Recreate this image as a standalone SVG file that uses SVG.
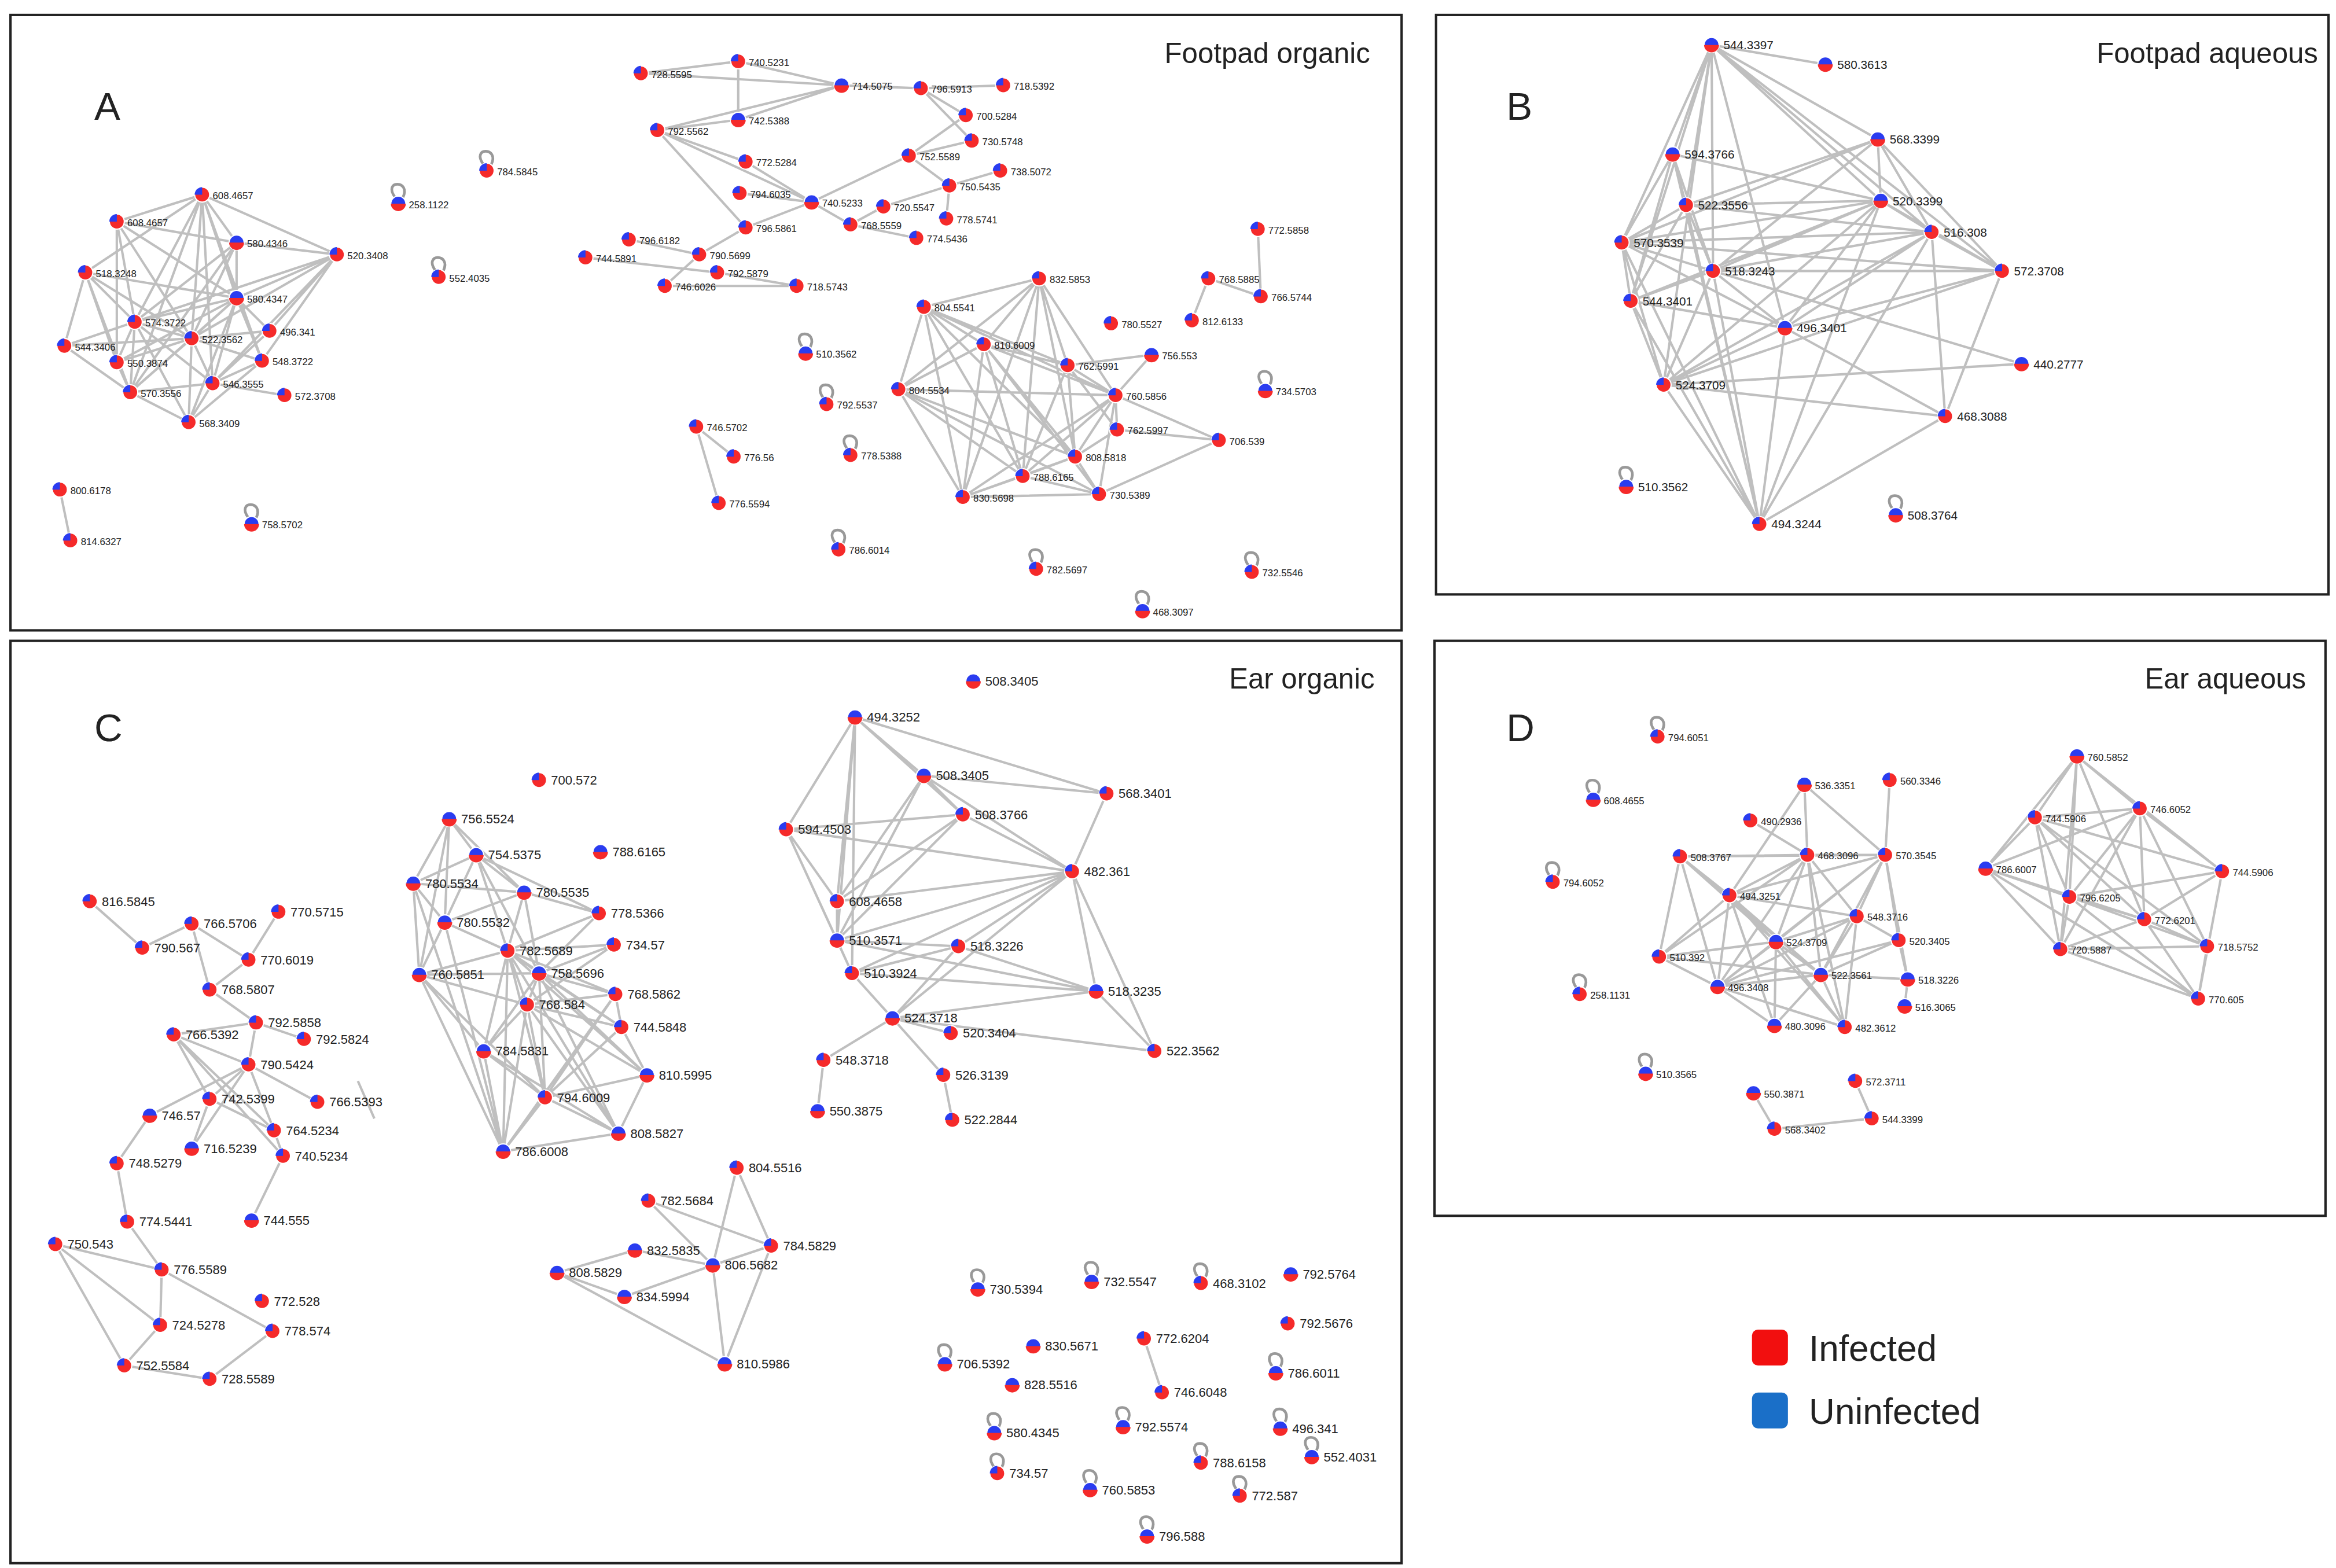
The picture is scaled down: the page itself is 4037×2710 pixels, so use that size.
<svg xmlns="http://www.w3.org/2000/svg" xmlns:xlink="http://www.w3.org/1999/xlink" width="4037" height="2710" viewBox="0 0 4037 2710">
<style>
text{font-family:"Liberation Sans",Arial,sans-serif;fill:#222}
.a text,.d text{font-size:6.5px}
.b text{font-size:8px}
.c text{font-size:8.5px}
.e{fill:none;stroke:#8a8a8a;stroke-opacity:.55;stroke-width:1.6}
.fr{fill:none;stroke:#222;stroke-width:1.6}
.t{font-size:19px}
.L{font-size:26px}
.lg{font-size:24px}
</style>
<defs>
<g id="r"><circle r="5" fill="#f52a2a" stroke="#fff" stroke-width=".8"/><path d="M0 0V-5A5 5 0 0 0 -5 0Z" fill="#2a3cf0"/></g>
<g id="b"><circle r="5" fill="#2a3cf0" stroke="#fff" stroke-width=".8"/><path d="M-5 0A5 5 0 0 0 5 0Z" fill="#f52a2a"/></g>
<path id="lp" d="M-2 -4C-11 -16 9 -16 3 -4" fill="none" stroke="#999" stroke-width="1.8"/>
</defs>
<rect width="4037" height="2710" fill="#fff"/>
<g transform="scale(2.5878)">
<g id="frames">
<rect class="fr" x="7" y="10" width="929" height="411"/>
<rect class="fr" x="959" y="10" width="596" height="387"/>
<rect class="fr" x="7" y="428" width="929" height="616"/>
<rect class="fr" x="958" y="428" width="595" height="384"/>
<text class="t" x="915" y="42" text-anchor="end">Footpad organic</text>
<text class="t" x="1548" y="42" text-anchor="end">Footpad aqueous</text>
<text class="t" x="918" y="460" text-anchor="end">Ear organic</text>
<text class="t" x="1540" y="460" text-anchor="end">Ear aqueous</text>
<text class="L" x="63" y="80">A</text>
<text class="L" x="1006" y="80">B</text>
<text class="L" x="63" y="495">C</text>
<text class="L" x="1006" y="495">D</text>
</g>
<g id="legend">
<rect x="1170" y="888" width="24" height="24" rx="4" fill="#f20f0f"/>
<text class="lg" x="1208" y="909">Infected</text>
<rect x="1170" y="930" width="24" height="24" rx="4" fill="#1a6fc8"/>
<text class="lg" x="1208" y="951">Uninfected</text>
</g>
<g id="connectors">
<path class="e" d="M135 130L78 148M135 130L158 162M135 130L225 170M135 130L57 182M135 130L158 199M135 130L90 215M135 130L128 226M135 130L175 241M135 130L142 256M135 130L87 262M78 148L158 162M78 148L158 199M78 148L90 215M78 148L128 226M78 148L78 242M158 162L225 170M158 162L158 199M158 162L90 215M158 162L128 226M158 162L87 262M225 170L158 199M225 170L90 215M225 170L128 226M225 170L175 241M225 170L142 256M225 170L180 221M57 182L158 199M57 182L90 215M57 182L128 226M57 182L43 231M57 182L78 242M57 182L87 262M158 199L90 215M158 199L180 221M158 199L128 226M158 199L175 241M158 199L78 242M158 199L142 256M158 199L87 262M158 199L126 282M90 215L128 226M90 215L43 231M90 215L78 242M90 215L142 256M90 215L87 262M90 215L126 282M128 226L175 241M128 226L78 242M128 226L142 256M128 226L87 262M128 226L126 282M43 231L87 262M43 231L128 226M175 241L142 256M175 241L126 282M78 242L87 262M142 256L87 262M142 256L126 282M87 262L126 282M180 221L128 226M180 221L142 256M142 256L190 264"/>
<path class="e" d="M40 327L47 361M428 49L493 41M428 49L562 57M493 41L562 57M493 41L493 80M562 57L615 59M493 80L562 57M493 80L439 87M439 87L498 108M439 87L542 135M439 87L498 152M439 87L562 57M615 59L645 77M615 59L649 94M615 59L670 57M645 77L607 104M607 104L634 124M607 104L542 135M634 124L590 138M634 124L668 114M649 94L607 104M542 135L568 150M590 138L568 150M632 146L634 124M568 150L612 159M494 129L542 135M498 108L542 135M498 152L542 135M498 152L467 170M420 160L467 170M391 172L479 182M467 170L444 191M444 191L532 191M479 182L532 191M840 153L842 198M807 186L796 214M807 186L842 198M465 285L490 305M465 285L480 336"/>
<path class="e" d="M694 186L617 205M694 186L657 230M694 186L713 244M694 186L600 260M694 186L745 264M694 186L718 305M694 186L683 318M694 186L643 332M617 205L657 230M617 205L600 260M617 205L713 244M617 205L718 305M617 205L683 318M617 205L643 332M617 205L745 264M657 230L713 244M657 230L600 260M657 230L745 264M657 230L718 305M657 230L683 318M657 230L643 332M657 230L734 330M713 244L745 264M713 244L718 305M713 244L683 318M713 244L769 237M769 237L745 264M600 260L745 264M600 260L718 305M600 260L683 318M600 260L643 332M600 260L734 330M745 264L746 287M745 264L814 294M745 264L718 305M745 264L683 318M745 264L643 332M745 264L734 330M746 287L718 305M746 287L814 294M814 294L734 330M718 305L683 318M718 305L643 332M718 305L734 330M683 318L643 332M683 318L734 330M643 332L734 330M713 244L746 287"/>
<path class="e" d="M1143 30L1219 43M1143 30L1117 103M1143 30L1126 137M1143 30L1083 162M1143 30L1144 181M1143 30L1089 201M1143 30L1254 93M1143 30L1256 134M1143 30L1290 155M1143 30L1192 219M1143 30L1111 257M1143 30L1337 181M1254 93L1256 134M1254 93L1290 155M1254 93L1083 162M1254 93L1144 181M1254 93L1126 137M1254 93L1337 181M1117 103L1083 162M1117 103L1126 137M1117 103L1144 181M1117 103L1089 201M1117 103L1256 134M1126 137L1256 134M1126 137L1083 162M1126 137L1144 181M1126 137L1089 201M1126 137L1290 155M1256 134L1290 155M1256 134L1083 162M1256 134L1144 181M1256 134L1089 201M1256 134L1192 219M1256 134L1111 257M1256 134L1337 181M1290 155L1083 162M1290 155L1144 181M1290 155L1337 181M1290 155L1192 219M1290 155L1111 257M1290 155L1299 278M1290 155L1175 350M1083 162L1144 181M1083 162L1089 201M1083 162L1192 219M1083 162L1111 257M1083 162L1175 350M1083 162L1337 181M1144 181L1089 201M1144 181L1192 219M1144 181L1111 257M1144 181L1337 181M1337 181L1192 219M1337 181L1299 278M1337 181L1111 257M1089 201L1111 257M1089 201L1192 219M1089 201L1175 350M1192 219L1111 257M1192 219L1175 350M1192 219L1299 278M1350 243L1111 257M1350 243L1144 181M1111 257L1175 350M1111 257L1299 278M1299 278L1175 350M1117 103L1175 350M1126 137L1175 350M1144 181L1175 350M1256 134L1175 350"/>
<path class="e" d="M60 602L95 633M95 633L128 617M128 617L166 641M186 609L166 641M166 641L140 661M128 617L140 661M140 661L171 683M171 683L166 711M171 683L203 694M171 683L116 691M116 691L166 711M116 691L140 734M116 691L183 755M116 691L189 772M166 711L212 736M166 711L140 734M166 711L183 755M166 711L128 767M166 711L100 745M140 734L183 755M140 734L128 767M183 755L189 772M100 745L78 777M78 777L85 816M85 816L108 848M189 772L168 815M37 831L108 848M37 831L107 885M37 831L83 912M108 848L107 885M108 848L182 889M107 885L83 912M83 912L140 921M140 921L182 889"/>
<path class="e" d="M300 547L318 571M300 547L276 590M300 547L350 596M300 547L297 616M300 547L280 651M318 571L276 590M318 571L350 596M318 571L400 610M318 571L297 616M318 571L339 635M318 571L360 650M276 590L297 616M276 590L350 596M276 590L280 651M350 596L400 610M350 596L339 635M350 596L297 616M350 596L360 650M400 610L339 635M400 610L360 650M297 616L339 635M297 616L280 651M339 635L410 631M339 635L360 650M339 635L280 651M339 635L411 664M339 635L352 671M339 635L415 686M339 635L323 702M339 635L432 718M339 635L364 733M339 635L413 757M339 635L336 769M410 631L360 650M410 631L352 671M360 650L411 664M360 650L352 671M360 650L415 686M360 650L323 702M360 650L432 718M360 650L364 733M360 650L413 757M280 651L352 671M280 651L323 702M280 651L364 733M280 651L336 769M280 651L360 650M411 664L352 671M411 664L415 686M411 664L364 733M352 671L415 686M352 671L323 702M352 671L432 718M352 671L364 733M352 671L413 757M352 671L336 769M415 686L432 718M415 686L364 733M323 702L364 733M323 702L336 769M432 718L364 733M432 718L413 757M364 733L413 757M364 733L336 769M413 757L336 769M323 702L413 757M297 616L336 769M276 590L336 769M411 664L336 769"/>
<path class="e" d="M571 479L617 518M571 479L525 554M571 479L559 602M571 479L559 628M571 479L739 530M571 479L643 544M571 479L569 650M617 518L739 530M617 518L643 544M617 518L559 628M617 518L716 582M617 518L559 602M739 530L716 582M643 544L525 554M643 544L716 582M643 544L559 628M643 544L559 602M525 554L559 602M525 554L559 628M525 554L569 650M525 554L716 582M716 582L559 628M716 582L640 632M716 582L732 662M716 582L569 650M716 582L596 680M716 582L771 702M559 602L559 628M559 602L716 582M559 628L640 632M559 628L569 650M559 628L732 662M640 632L732 662M640 632L569 650M569 650L732 662M569 650L596 680M732 662L596 680M732 662L771 702M596 680L635 690M596 680L550 708M596 680L630 718M596 680L771 702M596 680L640 632M550 708L546 742M630 718L636 748"/>
<path class="e" d="M492 780L476 845M492 780L515 832M433 802L476 845M433 802L515 832M424 835L476 845M424 835L372 850M476 845L515 832M476 845L417 866M476 845L484 911M515 832L484 911M372 850L417 866M372 850L484 911M764 894L776 930M239 722L250 747" transform="translate(0 0)"/>
<path class="e" d="M1239 722L1250 747M1250 747L1185 754M1171 730L1185 754"/>
<path class="e" d="M1205 524L1207 571M1205 524L1259 571M1205 524L1155 598M1262 521L1259 571M1169 548L1207 571M1122 572L1207 571M1122 572L1259 571M1122 572L1155 598M1122 572L1186 629M1122 572L1108 639M1122 572L1147 659M1122 572L1216 651M1207 571L1259 571M1207 571L1155 598M1207 571L1240 612M1207 571L1186 629M1207 571L1216 651M1207 571L1147 659M1207 571L1232 686M1207 571L1108 639M1259 571L1155 598M1259 571L1240 612M1259 571L1186 629M1259 571L1268 628M1259 571L1216 651M1259 571L1147 659M1259 571L1274 654M1155 598L1240 612M1155 598L1186 629M1155 598L1108 639M1155 598L1216 651M1155 598L1147 659M1155 598L1185 685M1155 598L1232 686M1240 612L1186 629M1240 612L1268 628M1240 612L1216 651M1240 612L1147 659M1240 612L1232 686M1186 629L1108 639M1186 629L1216 651M1186 629L1147 659M1186 629L1185 685M1186 629L1232 686M1268 628L1216 651M1268 628L1274 654M1108 639L1147 659M1108 639L1216 651M1216 651L1274 654M1216 651L1147 659M1216 651L1185 685M1216 651L1232 686M1147 659L1185 685M1147 659L1232 686M1274 654L1272 672M1268 628L1147 659"/>
<path class="e" d="M1387 505L1359 546M1387 505L1429 540M1387 505L1326 580M1387 505L1382 599M1387 505L1432 614M1387 505L1376 634M1387 505L1484 582M1359 546L1429 540M1359 546L1326 580M1359 546L1382 599M1359 546L1432 614M1359 546L1376 634M1359 546L1474 632M1359 546L1484 582M1429 540L1326 580M1429 540L1484 582M1429 540L1382 599M1429 540L1432 614M1429 540L1376 634M1429 540L1474 632M1326 580L1382 599M1326 580L1432 614M1326 580L1376 634M1326 580L1468 667M1484 582L1382 599M1484 582L1432 614M1484 582L1468 667M1382 599L1432 614M1382 599L1376 634M1382 599L1474 632M1382 599L1468 667M1432 614L1376 634M1432 614L1474 632M1432 614L1468 667M1376 634L1474 632M1376 634L1468 667M1474 632L1468 667"/>
</g>
<g class="a">
<g id="a1"><use href="#r" x="135" y="130"/><text x="142" y="133">608.4657</text></g>
<g id="a2"><use href="#r" x="78" y="148"/><text x="85" y="151">608.4657</text></g>
<g id="a3"><use href="#b" x="158" y="162"/><text x="165" y="165">580.4346</text></g>
<g id="a4"><use href="#r" x="225" y="170"/><text x="232" y="173">520.3408</text></g>
<g id="a5"><use href="#r" x="57" y="182"/><text x="64" y="185">518.3248</text></g>
<g id="a6"><use href="#b" x="158" y="199"/><text x="165" y="202">580.4347</text></g>
<g id="a7"><use href="#r" x="90" y="215"/><text x="97" y="218">574.3722</text></g>
<g id="a8"><use href="#r" x="180" y="221"/><text x="187" y="224">496.341</text></g>
<g id="a9"><use href="#r" x="128" y="226"/><text x="135" y="229">522.3562</text></g>
<g id="a10"><use href="#r" x="43" y="231"/><text x="50" y="234">544.3406</text></g>
<g id="a11"><use href="#r" x="175" y="241"/><text x="182" y="244">548.3722</text></g>
<g id="a12"><use href="#r" x="78" y="242"/><text x="85" y="245">550.3874</text></g>
<g id="a13"><use href="#r" x="142" y="256"/><text x="149" y="259">546.3555</text></g>
<g id="a14"><use href="#r" x="87" y="262"/><text x="94" y="265">570.3556</text></g>
<g id="a15"><use href="#r" x="190" y="264"/><text x="197" y="267">572.3708</text></g>
<g id="a16"><use href="#r" x="126" y="282"/><text x="133" y="285">568.3409</text></g>
<g id="a17"><use href="#lp" x="266" y="136"/><use href="#b" x="266" y="136"/><text x="273" y="139">258.1122</text></g>
<g id="a18"><use href="#lp" x="325" y="114"/><use href="#r" x="325" y="114"/><text x="332" y="117">784.5845</text></g>
<g id="a19"><use href="#lp" x="293" y="185"/><use href="#r" x="293" y="185"/><text x="300" y="188">552.4035</text></g>
<g id="a20"><use href="#r" x="40" y="327"/><text x="47" y="330">800.6178</text></g>
<g id="a21"><use href="#r" x="47" y="361"/><text x="54" y="364">814.6327</text></g>
<g id="a22"><use href="#lp" x="168" y="350"/><use href="#b" x="168" y="350"/><text x="175" y="353">758.5702</text></g>
<g id="a23"><use href="#r" x="428" y="49"/><text x="435" y="52">728.5595</text></g>
<g id="a24"><use href="#r" x="493" y="41"/><text x="500" y="44">740.5231</text></g>
<g id="a25"><use href="#b" x="562" y="57"/><text x="569" y="60">714.5075</text></g>
<g id="a26"><use href="#r" x="615" y="59"/><text x="622" y="62">796.5913</text></g>
<g id="a27"><use href="#r" x="670" y="57"/><text x="677" y="60">718.5392</text></g>
<g id="a28"><use href="#b" x="493" y="80"/><text x="500" y="83">742.5388</text></g>
<g id="a29"><use href="#r" x="645" y="77"/><text x="652" y="80">700.5284</text></g>
<g id="a30"><use href="#r" x="439" y="87"/><text x="446" y="90">792.5562</text></g>
<g id="a31"><use href="#r" x="649" y="94"/><text x="656" y="97">730.5748</text></g>
<g id="a32"><use href="#r" x="498" y="108"/><text x="505" y="111">772.5284</text></g>
<g id="a33"><use href="#r" x="607" y="104"/><text x="614" y="107">752.5589</text></g>
<g id="a34"><use href="#r" x="668" y="114"/><text x="675" y="117">738.5072</text></g>
<g id="a35"><use href="#r" x="494" y="129"/><text x="501" y="132">794.6035</text></g>
<g id="a36"><use href="#b" x="542" y="135"/><text x="549" y="138">740.5233</text></g>
<g id="a37"><use href="#r" x="590" y="138"/><text x="597" y="141">720.5547</text></g>
<g id="a38"><use href="#r" x="634" y="124"/><text x="641" y="127">750.5435</text></g>
<g id="a39"><use href="#r" x="568" y="150"/><text x="575" y="153">768.5559</text></g>
<g id="a40"><use href="#r" x="632" y="146"/><text x="639" y="149">778.5741</text></g>
<g id="a41"><use href="#r" x="498" y="152"/><text x="505" y="155">796.5861</text></g>
<g id="a42"><use href="#r" x="612" y="159"/><text x="619" y="162">774.5436</text></g>
<g id="a43"><use href="#r" x="420" y="160"/><text x="427" y="163">796.6182</text></g>
<g id="a44"><use href="#r" x="467" y="170"/><text x="474" y="173">790.5699</text></g>
<g id="a45"><use href="#r" x="391" y="172"/><text x="398" y="175">744.5891</text></g>
<g id="a46"><use href="#r" x="479" y="182"/><text x="486" y="185">792.5879</text></g>
<g id="a47"><use href="#r" x="444" y="191"/><text x="451" y="194">746.6026</text></g>
<g id="a48"><use href="#r" x="532" y="191"/><text x="539" y="194">718.5743</text></g>
<g id="a49"><use href="#r" x="694" y="186"/><text x="701" y="189">832.5853</text></g>
<g id="a50"><use href="#r" x="617" y="205"/><text x="624" y="208">804.5541</text></g>
<g id="a51"><use href="#r" x="742" y="216"/><text x="749" y="219">780.5527</text></g>
<g id="a52"><use href="#r" x="657" y="230"/><text x="664" y="233">810.6009</text></g>
<g id="a53"><use href="#r" x="713" y="244"/><text x="720" y="247">762.5991</text></g>
<g id="a54"><use href="#b" x="769" y="237"/><text x="776" y="240">756.553</text></g>
<g id="a55"><use href="#r" x="600" y="260"/><text x="607" y="263">804.5534</text></g>
<g id="a56"><use href="#r" x="745" y="264"/><text x="752" y="267">760.5856</text></g>
<g id="a57"><use href="#r" x="746" y="287"/><text x="753" y="290">762.5997</text></g>
<g id="a58"><use href="#r" x="814" y="294"/><text x="821" y="297">706.539</text></g>
<g id="a59"><use href="#r" x="718" y="305"/><text x="725" y="308">808.5818</text></g>
<g id="a60"><use href="#r" x="683" y="318"/><text x="690" y="321">788.6165</text></g>
<g id="a61"><use href="#r" x="643" y="332"/><text x="650" y="335">830.5698</text></g>
<g id="a62"><use href="#r" x="734" y="330"/><text x="741" y="333">730.5389</text></g>
<g id="a63"><use href="#r" x="840" y="153"/><text x="847" y="156">772.5858</text></g>
<g id="a64"><use href="#r" x="807" y="186"/><text x="814" y="189">768.5885</text></g>
<g id="a65"><use href="#r" x="842" y="198"/><text x="849" y="201">766.5744</text></g>
<g id="a66"><use href="#r" x="796" y="214"/><text x="803" y="217">812.6133</text></g>
<g id="a67"><use href="#lp" x="538" y="236"/><use href="#b" x="538" y="236"/><text x="545" y="239">510.3562</text></g>
<g id="a68"><use href="#lp" x="845" y="261"/><use href="#b" x="845" y="261"/><text x="852" y="264">734.5703</text></g>
<g id="a69"><use href="#lp" x="552" y="270"/><use href="#r" x="552" y="270"/><text x="559" y="273">792.5537</text></g>
<g id="a70"><use href="#lp" x="568" y="304"/><use href="#r" x="568" y="304"/><text x="575" y="307">778.5388</text></g>
<g id="a71"><use href="#lp" x="560" y="367"/><use href="#r" x="560" y="367"/><text x="567" y="370">786.6014</text></g>
<g id="a72"><use href="#lp" x="692" y="380"/><use href="#r" x="692" y="380"/><text x="699" y="383">782.5697</text></g>
<g id="a73"><use href="#lp" x="763" y="408"/><use href="#b" x="763" y="408"/><text x="770" y="411">468.3097</text></g>
<g id="a74"><use href="#lp" x="836" y="382"/><use href="#r" x="836" y="382"/><text x="843" y="385">732.5546</text></g>
<g id="a75"><use href="#r" x="465" y="285"/><text x="472" y="288">746.5702</text></g>
<g id="a76"><use href="#r" x="490" y="305"/><text x="497" y="308">776.56</text></g>
<g id="a77"><use href="#r" x="480" y="336"/><text x="487" y="339">776.5594</text></g>
</g>
<g class="b">
<g id="b1"><use href="#b" x="1143" y="30"/><text x="1151" y="33">544.3397</text></g>
<g id="b2"><use href="#b" x="1219" y="43"/><text x="1227" y="46">580.3613</text></g>
<g id="b3"><use href="#b" x="1254" y="93"/><text x="1262" y="96">568.3399</text></g>
<g id="b4"><use href="#b" x="1117" y="103"/><text x="1125" y="106">594.3766</text></g>
<g id="b5"><use href="#r" x="1126" y="137"/><text x="1134" y="140">522.3556</text></g>
<g id="b6"><use href="#b" x="1256" y="134"/><text x="1264" y="137">520.3399</text></g>
<g id="b7"><use href="#r" x="1290" y="155"/><text x="1298" y="158">516.308</text></g>
<g id="b8"><use href="#r" x="1083" y="162"/><text x="1091" y="165">570.3539</text></g>
<g id="b9"><use href="#r" x="1144" y="181"/><text x="1152" y="184">518.3243</text></g>
<g id="b10"><use href="#r" x="1337" y="181"/><text x="1345" y="184">572.3708</text></g>
<g id="b11"><use href="#r" x="1089" y="201"/><text x="1097" y="204">544.3401</text></g>
<g id="b12"><use href="#b" x="1192" y="219"/><text x="1200" y="222">496.3401</text></g>
<g id="b13"><use href="#b" x="1350" y="243"/><text x="1358" y="246">440.2777</text></g>
<g id="b14"><use href="#r" x="1111" y="257"/><text x="1119" y="260">524.3709</text></g>
<g id="b15"><use href="#r" x="1299" y="278"/><text x="1307" y="281">468.3088</text></g>
<g id="b16"><use href="#r" x="1175" y="350"/><text x="1183" y="353">494.3244</text></g>
<g id="b17"><use href="#lp" x="1086" y="325"/><use href="#b" x="1086" y="325"/><text x="1094" y="328">510.3562</text></g>
<g id="b18"><use href="#lp" x="1266" y="344"/><use href="#b" x="1266" y="344"/><text x="1274" y="347">508.3764</text></g>
</g>
<g class="c">
<g id="c1"><use href="#r" x="60" y="602"/><text x="68" y="605">816.5845</text></g>
<g id="c2"><use href="#r" x="128" y="617"/><text x="136" y="620">766.5706</text></g>
<g id="c3"><use href="#r" x="186" y="609"/><text x="194" y="612">770.5715</text></g>
<g id="c4"><use href="#r" x="95" y="633"/><text x="103" y="636">790.567</text></g>
<g id="c5"><use href="#r" x="166" y="641"/><text x="174" y="644">770.6019</text></g>
<g id="c6"><use href="#r" x="140" y="661"/><text x="148" y="664">768.5807</text></g>
<g id="c7"><use href="#r" x="171" y="683"/><text x="179" y="686">792.5858</text></g>
<g id="c8"><use href="#r" x="203" y="694"/><text x="211" y="697">792.5824</text></g>
<g id="c9"><use href="#r" x="116" y="691"/><text x="124" y="694">766.5392</text></g>
<g id="c10"><use href="#r" x="166" y="711"/><text x="174" y="714">790.5424</text></g>
<g id="c11"><use href="#r" x="140" y="734"/><text x="148" y="737">742.5399</text></g>
<g id="c12"><use href="#r" x="212" y="736"/><text x="220" y="739">766.5393</text></g>
<g id="c13"><use href="#b" x="100" y="745"/><text x="108" y="748">746.57</text></g>
<g id="c14"><use href="#r" x="183" y="755"/><text x="191" y="758">764.5234</text></g>
<g id="c15"><use href="#b" x="128" y="767"/><text x="136" y="770">716.5239</text></g>
<g id="c16"><use href="#r" x="189" y="772"/><text x="197" y="775">740.5234</text></g>
<g id="c17"><use href="#r" x="78" y="777"/><text x="86" y="780">748.5279</text></g>
<g id="c18"><use href="#r" x="85" y="816"/><text x="93" y="819">774.5441</text></g>
<g id="c19"><use href="#b" x="168" y="815"/><text x="176" y="818">744.555</text></g>
<g id="c20"><use href="#r" x="37" y="831"/><text x="45" y="834">750.543</text></g>
<g id="c21"><use href="#r" x="108" y="848"/><text x="116" y="851">776.5589</text></g>
<g id="c22"><use href="#r" x="175" y="869"/><text x="183" y="872">772.528</text></g>
<g id="c23"><use href="#r" x="107" y="885"/><text x="115" y="888">724.5278</text></g>
<g id="c24"><use href="#r" x="182" y="889"/><text x="190" y="892">778.574</text></g>
<g id="c25"><use href="#r" x="83" y="912"/><text x="91" y="915">752.5584</text></g>
<g id="c26"><use href="#r" x="140" y="921"/><text x="148" y="924">728.5589</text></g>
<g id="c27"><use href="#r" x="360" y="521"/><text x="368" y="524">700.572</text></g>
<g id="c28"><use href="#b" x="300" y="547"/><text x="308" y="550">756.5524</text></g>
<g id="c29"><use href="#b" x="318" y="571"/><text x="326" y="574">754.5375</text></g>
<g id="c30"><use href="#b" x="401" y="569"/><text x="409" y="572">788.6165</text></g>
<g id="c31"><use href="#b" x="276" y="590"/><text x="284" y="593">780.5534</text></g>
<g id="c32"><use href="#b" x="350" y="596"/><text x="358" y="599">780.5535</text></g>
<g id="c33"><use href="#r" x="400" y="610"/><text x="408" y="613">778.5366</text></g>
<g id="c34"><use href="#b" x="297" y="616"/><text x="305" y="619">780.5532</text></g>
<g id="c35"><use href="#r" x="339" y="635"/><text x="347" y="638">782.5689</text></g>
<g id="c36"><use href="#r" x="410" y="631"/><text x="418" y="634">734.57</text></g>
<g id="c37"><use href="#b" x="360" y="650"/><text x="368" y="653">758.5696</text></g>
<g id="c38"><use href="#b" x="280" y="651"/><text x="288" y="654">760.5851</text></g>
<g id="c39"><use href="#r" x="411" y="664"/><text x="419" y="667">768.5862</text></g>
<g id="c40"><use href="#r" x="352" y="671"/><text x="360" y="674">768.584</text></g>
<g id="c41"><use href="#r" x="415" y="686"/><text x="423" y="689">744.5848</text></g>
<g id="c42"><use href="#b" x="323" y="702"/><text x="331" y="705">784.5831</text></g>
<g id="c43"><use href="#b" x="432" y="718"/><text x="440" y="721">810.5995</text></g>
<g id="c44"><use href="#r" x="364" y="733"/><text x="372" y="736">794.6009</text></g>
<g id="c45"><use href="#b" x="413" y="757"/><text x="421" y="760">808.5827</text></g>
<g id="c46"><use href="#b" x="336" y="769"/><text x="344" y="772">786.6008</text></g>
<g id="c47"><use href="#b" x="650" y="455"/><text x="658" y="458">508.3405</text></g>
<g id="c48"><use href="#b" x="571" y="479"/><text x="579" y="482">494.3252</text></g>
<g id="c49"><use href="#b" x="617" y="518"/><text x="625" y="521">508.3405</text></g>
<g id="c50"><use href="#r" x="739" y="530"/><text x="747" y="533">568.3401</text></g>
<g id="c51"><use href="#r" x="643" y="544"/><text x="651" y="547">508.3766</text></g>
<g id="c52"><use href="#r" x="525" y="554"/><text x="533" y="557">594.4503</text></g>
<g id="c53"><use href="#r" x="716" y="582"/><text x="724" y="585">482.361</text></g>
<g id="c54"><use href="#r" x="559" y="602"/><text x="567" y="605">608.4658</text></g>
<g id="c55"><use href="#b" x="559" y="628"/><text x="567" y="631">510.3571</text></g>
<g id="c56"><use href="#r" x="640" y="632"/><text x="648" y="635">518.3226</text></g>
<g id="c57"><use href="#r" x="569" y="650"/><text x="577" y="653">510.3924</text></g>
<g id="c58"><use href="#b" x="732" y="662"/><text x="740" y="665">518.3235</text></g>
<g id="c59"><use href="#b" x="596" y="680"/><text x="604" y="683">524.3718</text></g>
<g id="c60"><use href="#r" x="635" y="690"/><text x="643" y="693">520.3404</text></g>
<g id="c61"><use href="#r" x="771" y="702"/><text x="779" y="705">522.3562</text></g>
<g id="c62"><use href="#r" x="550" y="708"/><text x="558" y="711">548.3718</text></g>
<g id="c63"><use href="#r" x="630" y="718"/><text x="638" y="721">526.3139</text></g>
<g id="c64"><use href="#b" x="546" y="742"/><text x="554" y="745">550.3875</text></g>
<g id="c65"><use href="#r" x="636" y="748"/><text x="644" y="751">522.2844</text></g>
<g id="c66"><use href="#r" x="492" y="780"/><text x="500" y="783">804.5516</text></g>
<g id="c67"><use href="#r" x="433" y="802"/><text x="441" y="805">782.5684</text></g>
<g id="c68"><use href="#r" x="515" y="832"/><text x="523" y="835">784.5829</text></g>
<g id="c69"><use href="#b" x="424" y="835"/><text x="432" y="838">832.5835</text></g>
<g id="c70"><use href="#b" x="476" y="845"/><text x="484" y="848">806.5682</text></g>
<g id="c71"><use href="#b" x="372" y="850"/><text x="380" y="853">808.5829</text></g>
<g id="c72"><use href="#b" x="417" y="866"/><text x="425" y="869">834.5994</text></g>
<g id="c73"><use href="#b" x="484" y="911"/><text x="492" y="914">810.5986</text></g>
<g id="c74"><use href="#lp" x="653" y="861"/><use href="#b" x="653" y="861"/><text x="661" y="864">730.5394</text></g>
<g id="c75"><use href="#lp" x="729" y="856"/><use href="#b" x="729" y="856"/><text x="737" y="859">732.5547</text></g>
<g id="c76"><use href="#lp" x="802" y="857"/><use href="#r" x="802" y="857"/><text x="810" y="860">468.3102</text></g>
<g id="c77"><use href="#b" x="862" y="851"/><text x="870" y="854">792.5764</text></g>
<g id="c78"><use href="#r" x="860" y="884"/><text x="868" y="887">792.5676</text></g>
<g id="c79"><use href="#b" x="690" y="899"/><text x="698" y="902">830.5671</text></g>
<g id="c80"><use href="#r" x="764" y="894"/><text x="772" y="897">772.6204</text></g>
<g id="c81"><use href="#r" x="776" y="930"/><text x="784" y="933">746.6048</text></g>
<g id="c82"><use href="#lp" x="631" y="911"/><use href="#b" x="631" y="911"/><text x="639" y="914">706.5392</text></g>
<g id="c83"><use href="#b" x="676" y="925"/><text x="684" y="928">828.5516</text></g>
<g id="c84"><use href="#lp" x="852" y="917"/><use href="#b" x="852" y="917"/><text x="860" y="920">786.6011</text></g>
<g id="c85"><use href="#lp" x="750" y="953"/><use href="#b" x="750" y="953"/><text x="758" y="956">792.5574</text></g>
<g id="c86"><use href="#lp" x="664" y="957"/><use href="#b" x="664" y="957"/><text x="672" y="960">580.4345</text></g>
<g id="c87"><use href="#lp" x="855" y="954"/><use href="#b" x="855" y="954"/><text x="863" y="957">496.341</text></g>
<g id="c88"><use href="#lp" x="876" y="973"/><use href="#b" x="876" y="973"/><text x="884" y="976">552.4031</text></g>
<g id="c89"><use href="#lp" x="802" y="977"/><use href="#r" x="802" y="977"/><text x="810" y="980">788.6158</text></g>
<g id="c90"><use href="#lp" x="666" y="984"/><use href="#r" x="666" y="984"/><text x="674" y="987">734.57</text></g>
<g id="c91"><use href="#lp" x="828" y="999"/><use href="#r" x="828" y="999"/><text x="836" y="1002">772.587</text></g>
<g id="c92"><use href="#lp" x="728" y="995"/><use href="#b" x="728" y="995"/><text x="736" y="998">760.5853</text></g>
<g id="c93"><use href="#lp" x="766" y="1026"/><use href="#b" x="766" y="1026"/><text x="774" y="1029">796.588</text></g>
</g>
<g class="d">
<g id="d1"><use href="#lp" x="1107" y="492"/><use href="#r" x="1107" y="492"/><text x="1114" y="495">794.6051</text></g>
<g id="d2"><use href="#lp" x="1064" y="534"/><use href="#b" x="1064" y="534"/><text x="1071" y="537">608.4655</text></g>
<g id="d3"><use href="#lp" x="1037" y="589"/><use href="#r" x="1037" y="589"/><text x="1044" y="592">794.6052</text></g>
<g id="d4"><use href="#lp" x="1055" y="664"/><use href="#r" x="1055" y="664"/><text x="1062" y="667">258.1131</text></g>
<g id="d5"><use href="#lp" x="1099" y="717"/><use href="#b" x="1099" y="717"/><text x="1106" y="720">510.3565</text></g>
<g id="d6"><use href="#b" x="1205" y="524"/><text x="1212" y="527">536.3351</text></g>
<g id="d7"><use href="#r" x="1262" y="521"/><text x="1269" y="524">560.3346</text></g>
<g id="d8"><use href="#r" x="1169" y="548"/><text x="1176" y="551">490.2936</text></g>
<g id="d9"><use href="#r" x="1122" y="572"/><text x="1129" y="575">508.3767</text></g>
<g id="d10"><use href="#r" x="1207" y="571"/><text x="1214" y="574">468.3096</text></g>
<g id="d11"><use href="#r" x="1259" y="571"/><text x="1266" y="574">570.3545</text></g>
<g id="d12"><use href="#r" x="1155" y="598"/><text x="1162" y="601">494.3251</text></g>
<g id="d13"><use href="#r" x="1240" y="612"/><text x="1247" y="615">548.3716</text></g>
<g id="d14"><use href="#b" x="1186" y="629"/><text x="1193" y="632">524.3709</text></g>
<g id="d15"><use href="#r" x="1268" y="628"/><text x="1275" y="631">520.3405</text></g>
<g id="d16"><use href="#r" x="1108" y="639"/><text x="1115" y="642">510.392</text></g>
<g id="d17"><use href="#b" x="1216" y="651"/><text x="1223" y="654">522.3561</text></g>
<g id="d18"><use href="#b" x="1274" y="654"/><text x="1281" y="657">518.3226</text></g>
<g id="d19"><use href="#b" x="1147" y="659"/><text x="1154" y="662">496.3408</text></g>
<g id="d20"><use href="#b" x="1272" y="672"/><text x="1279" y="675">516.3065</text></g>
<g id="d21"><use href="#b" x="1185" y="685"/><text x="1192" y="688">480.3096</text></g>
<g id="d22"><use href="#r" x="1232" y="686"/><text x="1239" y="689">482.3612</text></g>
<g id="d23"><use href="#b" x="1387" y="505"/><text x="1394" y="508">760.5852</text></g>
<g id="d24"><use href="#r" x="1359" y="546"/><text x="1366" y="549">744.5906</text></g>
<g id="d25"><use href="#r" x="1429" y="540"/><text x="1436" y="543">746.6052</text></g>
<g id="d26"><use href="#b" x="1326" y="580"/><text x="1333" y="583">786.6007</text></g>
<g id="d27"><use href="#r" x="1484" y="582"/><text x="1491" y="585">744.5906</text></g>
<g id="d28"><use href="#r" x="1382" y="599"/><text x="1389" y="602">796.6205</text></g>
<g id="d29"><use href="#r" x="1432" y="614"/><text x="1439" y="617">772.6201</text></g>
<g id="d30"><use href="#r" x="1376" y="634"/><text x="1383" y="637">720.5887</text></g>
<g id="d31"><use href="#r" x="1474" y="632"/><text x="1481" y="635">718.5752</text></g>
<g id="d32"><use href="#r" x="1468" y="667"/><text x="1475" y="670">770.605</text></g>
<g id="d33"><use href="#r" x="1239" y="722"/><text x="1246" y="725">572.3711</text></g>
<g id="d34"><use href="#b" x="1171" y="730"/><text x="1178" y="733">550.3871</text></g>
<g id="d35"><use href="#r" x="1250" y="747"/><text x="1257" y="750">544.3399</text></g>
<g id="d36"><use href="#r" x="1185" y="754"/><text x="1192" y="757">568.3402</text></g>
</g>
</g>
</svg>
